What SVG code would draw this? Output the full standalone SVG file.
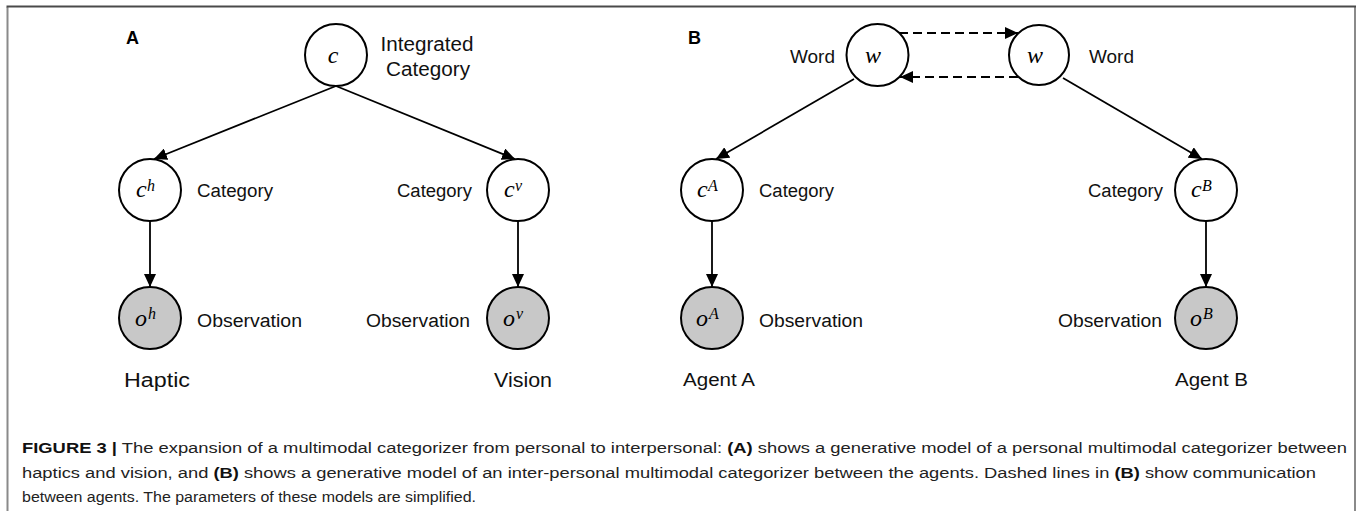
<svg xmlns="http://www.w3.org/2000/svg" width="1362" height="511" viewBox="0 0 1362 511">
  <style>
    .node { fill: #ffffff; stroke: #000000; stroke-width: 2; }
    .obs { fill: #c8c8c8; stroke: #000000; stroke-width: 2; }
    .edge { stroke: #000000; stroke-width: 1.8; fill: none; marker-end: url(#arrow); }
    .dash { stroke: #000000; stroke-width: 1.8; fill: none; stroke-dasharray: 9 5; marker-end: url(#arrow); }
    .var { font-family: "Liberation Serif", "Times New Roman", serif; font-style: italic; font-size: 24px; fill: #000; }
    .sup { font-family: "Liberation Serif", "Times New Roman", serif; font-style: italic; font-size: 16px; fill: #000; }
    .lbl { font-family: "Liberation Sans", Arial, sans-serif; font-size: 18px; fill: #111; }
    .big { font-family: "Liberation Sans", Arial, sans-serif; font-size: 20px; fill: #111; }
    .panel { font-family: "Liberation Sans", Arial, sans-serif; font-size: 18px; font-weight: bold; fill: #000; }
    .cap { font-family: "Liberation Sans", Arial, sans-serif; font-size: 15.5px; fill: #222; }
    .capb { font-weight: bold; fill: #111; }
  </style>
  <defs>
    <marker id="arrow" markerUnits="userSpaceOnUse" markerWidth="14" markerHeight="12" refX="13" refY="6" orient="auto">
      <path d="M0,0 L13,6 L0,12 z" fill="#000"/>
    </marker>
  </defs>

  <rect width="1362" height="511" fill="#ffffff"/>

  <!-- figure frame -->
  <g id="frame">
    <line x1="7.5" y1="7" x2="7.5" y2="520" stroke="#8a8a8a" stroke-width="2"/>
    <line x1="1355" y1="7" x2="1355" y2="520" stroke="#8a8a8a" stroke-width="2"/>
    <line x1="6.5" y1="6.5" x2="1356" y2="6.5" stroke="#4a4a4a" stroke-width="2"/>
  </g>

  <!-- connectors -->
  <g id="connectors">
    <line class="edge" x1="336" y1="86" x2="154" y2="159"/>
    <line class="edge" x1="336" y1="86" x2="515" y2="159"/>
    <line class="edge" x1="150" y1="221" x2="150" y2="287"/>
    <line class="edge" x1="518" y1="221" x2="518" y2="287"/>
    <line class="dash" x1="899" y1="33" x2="1018" y2="33"/>
    <line class="dash" x1="1018" y1="77" x2="900" y2="77"/>
    <line class="edge" x1="854" y1="79" x2="716" y2="159"/>
    <line class="edge" x1="1063" y1="78" x2="1202" y2="159"/>
    <line class="edge" x1="712" y1="221" x2="712" y2="287"/>
    <line class="edge" x1="1206" y1="221" x2="1206" y2="287"/>
  </g>

  <!-- panel A -->
  <text class="panel" x="126" y="44">A</text>

  <g id="node-c">
    <circle class="node" cx="336" cy="55" r="31"/>
    <text class="var" x="333" y="63" text-anchor="middle">c</text>
    <text class="big" x="427" y="51" text-anchor="middle" textLength="93" lengthAdjust="spacingAndGlyphs">Integrated</text>
    <text class="big" x="428" y="76" text-anchor="middle" textLength="84" lengthAdjust="spacingAndGlyphs">Category</text>
  </g>

  <g id="node-ch">
    <circle class="node" cx="150" cy="190" r="31"/>
    <text class="var" x="136" y="197">c</text>
    <text class="sup" x="147" y="191">h</text>
    <text class="lbl" x="197" y="197" textLength="76" lengthAdjust="spacingAndGlyphs">Category</text>
  </g>

  <g id="node-oh">
    <circle class="obs" cx="150" cy="318" r="31"/>
    <text class="var" x="135" y="326">o</text>
    <text class="sup" x="148" y="319">h</text>
    <text class="lbl" x="197" y="327" textLength="105" lengthAdjust="spacingAndGlyphs">Observation</text>
  </g>

  <g id="node-cv">
    <circle class="node" cx="518" cy="190" r="31"/>
    <text class="var" x="504" y="197">c</text>
    <text class="sup" x="515" y="191">v</text>
    <text class="lbl" x="397" y="197" textLength="75" lengthAdjust="spacingAndGlyphs">Category</text>
  </g>

  <g id="node-ov">
    <circle class="obs" cx="518" cy="318" r="31"/>
    <text class="var" x="503" y="326">o</text>
    <text class="sup" x="516" y="319">v</text>
    <text class="lbl" x="366" y="327" textLength="104" lengthAdjust="spacingAndGlyphs">Observation</text>
  </g>

  <text class="big" x="124" y="387" font-size="22" textLength="66" lengthAdjust="spacingAndGlyphs">Haptic</text>
  <text class="big" x="494" y="387" font-size="22" textLength="58" lengthAdjust="spacingAndGlyphs">Vision</text>

  <!-- panel B -->
  <text class="panel" x="688" y="44">B</text>

  <g id="node-wA">
    <circle class="node" cx="877.5" cy="55" r="31"/>
    <text class="var" x="873" y="63" text-anchor="middle">w</text>
    <text class="lbl" x="790" y="63" textLength="45" lengthAdjust="spacingAndGlyphs">Word</text>
  </g>

  <g id="node-wB">
    <circle class="node" cx="1039" cy="55" r="30"/>
    <text class="var" x="1035" y="63" text-anchor="middle">w</text>
    <text class="lbl" x="1089" y="63" textLength="45" lengthAdjust="spacingAndGlyphs">Word</text>
  </g>

  <g id="node-cA">
    <circle class="node" cx="712" cy="190" r="31"/>
    <text class="var" x="697" y="197">c</text>
    <text class="sup" x="708" y="191">A</text>
    <text class="lbl" x="759" y="197" textLength="75" lengthAdjust="spacingAndGlyphs">Category</text>
  </g>

  <g id="node-oA">
    <circle class="obs" cx="712" cy="318" r="31"/>
    <text class="var" x="696" y="326">o</text>
    <text class="sup" x="709" y="319">A</text>
    <text class="lbl" x="759" y="327" textLength="104" lengthAdjust="spacingAndGlyphs">Observation</text>
  </g>

  <g id="node-cB">
    <circle class="node" cx="1206" cy="190" r="31"/>
    <text class="var" x="1191" y="197">c</text>
    <text class="sup" x="1202" y="191">B</text>
    <text class="lbl" x="1088" y="197" textLength="75" lengthAdjust="spacingAndGlyphs">Category</text>
  </g>

  <g id="node-oB">
    <circle class="obs" cx="1206" cy="318" r="31"/>
    <text class="var" x="1190" y="326">o</text>
    <text class="sup" x="1203" y="319">B</text>
    <text class="lbl" x="1058" y="327" textLength="104" lengthAdjust="spacingAndGlyphs">Observation</text>
  </g>

  <text class="lbl" x="683" y="386" font-size="19" textLength="72" lengthAdjust="spacingAndGlyphs">Agent A</text>
  <text class="lbl" x="1175" y="386" font-size="19" textLength="73" lengthAdjust="spacingAndGlyphs">Agent B</text>

  <!-- caption -->
  <g id="caption">
    <text class="cap" x="22" y="453" textLength="1325" lengthAdjust="spacingAndGlyphs"><tspan class="capb">FIGURE 3 |</tspan> The expansion of a multimodal categorizer from personal to interpersonal: <tspan class="capb">(A)</tspan> shows a generative model of a personal multimodal categorizer between</text>
    <text class="cap" x="22" y="478" textLength="1294" lengthAdjust="spacingAndGlyphs">haptics and vision, and <tspan class="capb">(B)</tspan> shows a generative model of an inter-personal multimodal categorizer between the agents. Dashed lines in <tspan class="capb">(B)</tspan> show communication</text>
    <text class="cap" x="22" y="502" textLength="454" lengthAdjust="spacingAndGlyphs">between agents. The parameters of these models are simplified.</text>
  </g>
</svg>
